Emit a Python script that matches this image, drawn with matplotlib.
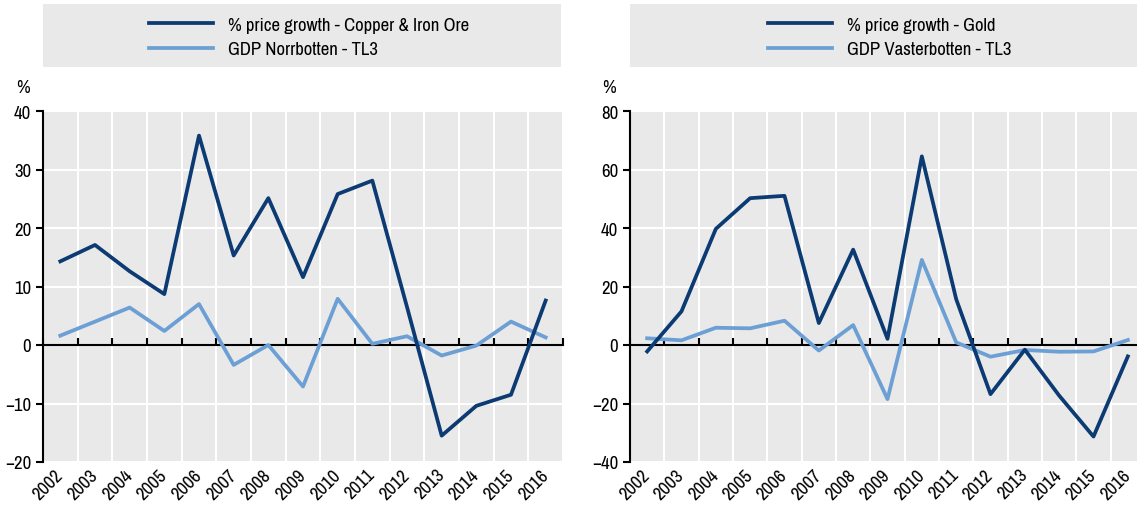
import matplotlib
matplotlib.use('Agg')
import matplotlib.pyplot as plt
from matplotlib.patches import Rectangle
from matplotlib import font_manager

years = ['2002', '2003', '2004', '2005', '2006', '2007', '2008', '2009',
         '2010', '2011', '2012', '2013', '2014', '2015', '2016']

# left panel: Norrbotten
copper_iron = [14.3, 17.1, 12.6, 8.7, 35.8, 15.3, 25.1, 11.6,
               25.8, 28.1, 6.5, -15.5, -10.4, -8.5, 7.6]
gdp_norrbotten = [1.6, 4.0, 6.4, 2.4, 7.0, -3.4, 0.0, -7.1,
                  7.9, 0.2, 1.5, -1.8, -0.1, 4.0, 1.3]

# right panel: Vasterbotten
gold = [-2.2, 11.5, 39.7, 50.2, 51.0, 7.5, 32.6, 2.1,
        64.5, 15.7, -16.8, -1.6, -17.3, -31.3, -3.9]
gdp_vasterbotten = [2.3, 1.6, 5.9, 5.7, 8.3, -1.9, 6.8, -18.5,
                    29.1, 0.9, -4.0, -1.7, -2.3, -2.2, 1.7]

dark = '#0c3a72'
light = '#6c9fd4'
bg = '#e9e9e9'

names = sorted({f.name for f in font_manager.fontManager.ttflist})
narrow = [n for n in names if 'Narrow' in n]
fam = narrow[0] if narrow else 'Liberation Sans'
plt.rcParams['font.family'] = [fam, 'DejaVu Sans']

W, H = 1137, 506
fig = plt.figure(figsize=(W / 100, H / 100), dpi=100)


def panel(rect, s1, s2, lab1, lab2, ylim, yticks, box, leg_x, pct_x):
    ax = fig.add_axes(rect)
    # zero line: top spine moved to y=0 (done first, it resets the ticks)
    ax.spines['top'].set_position(('data', 0))
    ax.spines['top'].set_linewidth(1.5)
    ax.spines['top'].set_zorder(2)
    x = list(range(len(years)))
    ax.set_facecolor(bg)
    ax.plot(x, s1, color=dark, lw=2.7, label=lab1, zorder=4)
    ax.plot(x, s2, color=light, lw=2.7, label=lab2, zorder=3)
    ax.set_xlim(-0.5, len(years) - 0.5)
    ax.set_ylim(*ylim)
    ax.set_yticks(yticks)
    ax.set_xticks(x)
    ax.set_xticklabels(years, rotation=45, ha='right', rotation_mode='anchor',
                       va='center', fontsize=13.5)
    ax.set_xticks([i - 0.5 for i in range(len(years) + 1)], minor=True)
    ax.tick_params(axis='x', which='major', length=0, pad=7, top=False)
    ax.tick_params(axis='x', which='minor', top=True, bottom=False,
                   direction='out', length=5, width=1.5, color='black')
    ax.tick_params(axis='y', length=5, width=1.5, labelsize=13.5, color='black')
    ax.grid(True, which='minor', axis='x', color='white', lw=1.5)
    ax.grid(True, which='major', axis='y', color='white', lw=1.5)
    ax.set_axisbelow(True)
    for s in ['right', 'bottom']:
        ax.spines[s].set_visible(False)
    ax.spines['left'].set_linewidth(1.5)
    fig.text(pct_x / W, 1 - 88 / H, '%', fontsize=13.5, ha='right', va='center')
    # legend box
    fig.patches.append(Rectangle((box[0] / W, 1 - box[3] / H), (box[2] - box[0]) / W,
                                 (box[3] - box[1]) / H, transform=fig.transFigure,
                                 facecolor=bg, edgecolor='none', zorder=0))
    fig.legend(handles=ax.get_lines(), loc='center left',
               bbox_to_anchor=(leg_x / W, 1 - 38 / H),
               frameon=False, fontsize=13.5, handlelength=3.4,
               handletextpad=0.8, labelspacing=0.45, borderpad=0,
               borderaxespad=0)
    return ax


panel([43 / W, 43 / H, 520 / W, 351 / H], copper_iron, gdp_norrbotten,
      '% price growth - Copper & Iron Ore', 'GDP Norrbotten - TL3',
      (-20, 40), [-20, -10, 0, 10, 20, 30, 40], (43, 5, 561, 68), 149, 30)
panel([630 / W, 43 / H, 515 / W, 351 / H], gold, gdp_vasterbotten,
      '% price growth - Gold', 'GDP Vasterbotten - TL3',
      (-40, 80), [-40, -20, 0, 20, 40, 60, 80], (630, 5, 1137, 68), 768, 616)

fig.savefig('out.png', dpi=100)
